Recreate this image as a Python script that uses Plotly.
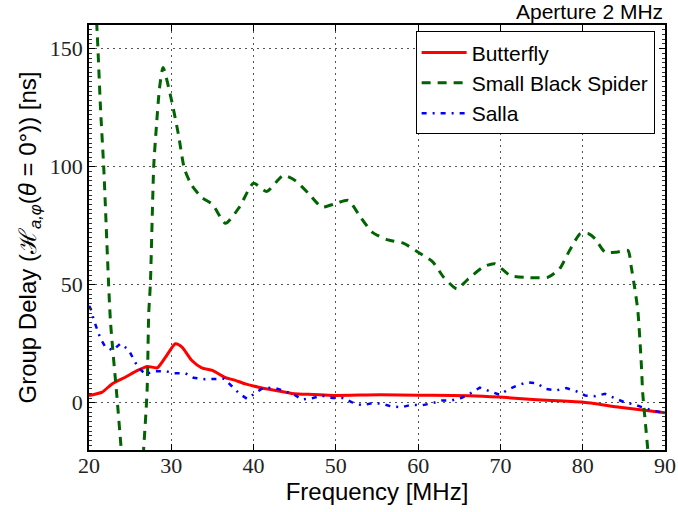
import plotly.graph_objects as go

# Butterfly
bf_freq = [20.0, 21.6, 22.8, 24.4, 25.9, 27.1, 28.3, 29.3, 30.5, 31.3, 32.5, 33.7, 35.0, 36.6,
           37.6, 39.0, 40.6, 42.2, 43.9, 44.9, 47.3, 49.7, 55.4, 60.0, 66.3, 69.9, 74.4, 79.9,
           84.5, 90.0]
bf_delay = [3.1, 4.5, 8.0, 10.8, 13.7, 15.4, 14.8, 19.3, 25.0, 23.6, 17.9, 14.8, 13.7, 10.6,
            9.7, 8.0, 6.6, 5.5, 4.5, 3.8, 3.5, 3.1, 3.4, 3.2, 3.0, 2.4, 1.3, 0.3,
            -1.9, -4.2]

# Small Black Spider
sbs_freq = [20.7, 21.0, 21.4, 21.8, 22.6, 23.4, 23.9, 24.3, 26.3, 26.65, 27.06, 27.26, 27.46,
            27.87, 28.2, 28.56, 29.0, 30.1, 30.9, 31.6, 32.5, 33.7, 35.0, 36.6, 38.3, 40.0,
            41.6, 43.6, 45.1, 46.7, 48.3, 49.9, 51.5, 53.0, 54.4, 56.2, 58.2, 60.0, 61.8,
            63.1, 64.7, 66.1, 67.9, 69.3, 71.2, 73.6, 75.8, 77.2, 78.4, 79.7, 80.7, 81.5,
            82.7, 84.1, 85.5, 85.9, 86.3, 86.7, 87.1, 87.3, 87.7, 87.9, 88.3]
sbs_delay = [175.0, 156.5, 124.7, 99.0, 35.0, 2.4, -19.0, -35.0, -35.0, -19.0, 5.0, 38.0, 50.5,
             100.5, 117.5, 133.0, 142.0, 127.0, 113.0, 99.0, 92.0, 87.0, 84.0, 76.0, 83.0, 93.0,
             89.5, 96.3, 94.0, 88.6, 82.9, 84.3, 85.7, 78.6, 72.3, 69.1, 67.6, 63.8, 59.6,
             53.2, 48.3, 52.5, 57.5, 58.9, 53.9, 53.0, 53.2, 56.8, 64.5, 71.6, 71.6, 69.5,
             63.8, 63.8, 64.5, 57.5, 49.0, 39.0, 17.9, 3.8, -11.7, -19.5, -35.0]

# Salla
sal_freq = [20.0, 20.2, 20.6, 21.4, 22.0, 22.9, 23.8, 24.8, 25.4, 26.0, 26.9, 27.9, 29.3, 30.4,
            31.7, 32.7, 34.1, 35.4, 36.4, 37.4, 38.3, 39.2, 40.2, 41.2, 42.6, 43.6, 44.9, 45.9,
            47.2, 48.3, 49.6, 50.9, 51.9, 53.2, 54.4, 55.6, 56.8, 58.0, 59.2, 60.4, 61.7,
            62.9, 64.1, 65.3, 66.4, 67.5, 68.7, 69.9, 70.9, 72.0, 73.3, 74.4, 75.5, 76.7,
            78.0, 79.2, 80.3, 81.5, 82.7, 83.9, 85.0, 86.2, 87.3, 88.5, 89.8, 90.0]
sal_delay = [41.0, 39.8, 34.9, 27.1, 23.6, 22.2, 25.0, 22.5, 18.6, 14.8, 12.0, 13.4, 13.4, 12.5,
             12.5, 10.6, 10.0, 10.0, 10.2, 6.9, 3.8, 1.7, 4.1, 6.4, 6.2, 5.2, 3.5, 1.4,
             2.0, 3.0, 2.0, 2.0, 0.3, -1.1, -0.2, -0.4, -1.6, -1.9, -0.8, -1.1, -0.2,
             1.0, 1.0, 2.1, 4.1, 6.4, 4.9, 3.4, 5.5, 7.3, 8.7, 8.3, 5.9, 5.2,
             6.2, 4.9, 3.1, 2.8, 3.8, 2.1, 0.3, -0.7, -1.9, -3.3, -4.2, -4.3]

fig = go.Figure()
fig.add_trace(go.Scatter(x=bf_freq, y=bf_delay, mode='lines', name='Butterfly',
                         line=dict(color='#ff0000', width=3, shape='spline', smoothing=0.6)))
fig.add_trace(go.Scatter(x=sbs_freq, y=sbs_delay, mode='lines', name='Small Black Spider',
                         line=dict(color='#006400', width=3, dash='9px,7px', shape='spline',
                                   smoothing=0.6)))
fig.add_trace(go.Scatter(x=sal_freq, y=sal_delay, mode='lines', name='Salla',
                         line=dict(color='#0000ff', width=2.5, dash='5px,6px,2px,6px')))

tick_font = dict(family='Liberation Serif', size=22, color='#222')
axis_common = dict(showline=True, linecolor='black', linewidth=1.5, mirror='ticks',
                   ticks='inside', ticklen=6, tickcolor='black', tickfont=tick_font,
                   showgrid=True, gridcolor='#555', gridwidth=1, griddash='2px,4px',
                   zeroline=False, automargin=False)

fig.update_layout(
    width=678, height=512, autosize=False,
    margin=dict(l=89, r=13, t=25, b=62),
    plot_bgcolor='white', paper_bgcolor='white',
    font=dict(family='Liberation Sans', color='black'),
    showlegend=True,
    legend=dict(x=0.982, y=0.985, xanchor='right', yanchor='top',
                bgcolor='white', bordercolor='black', borderwidth=1,
                font=dict(family='Liberation Sans', size=21),
                itemwidth=45),
    xaxis=dict(range=[20, 90], dtick=10, tick0=20, ticklabelstandoff=-5,
               title=dict(text='Frequency [MHz]', font=dict(size=24), standoff=4),
               **axis_common),
    yaxis=dict(range=[-20, 160], dtick=50, tick0=0,
               title=dict(text='Group Delay (ℋ<sub><i>a,φ</i></sub>(<i>θ</i> = 0°)) [ns]',
                          font=dict(size=24), standoff=6),
               minor=dict(ticks='inside', ticklen=3, dtick=2, tickcolor='#333',
                          showgrid=False),
               **axis_common),
    annotations=[dict(text='Aperture 2 MHz', x=1, y=1, xref='paper', yref='paper',
                      xanchor='right', yanchor='bottom', yshift=0, showarrow=False,
                      font=dict(family='Liberation Sans', size=21))],
)

# drop the default 8px body margin so the figure fills the window exactly
fig.write_html("out.html", config={'displayModeBar': False},
               post_script="document.body.style.margin='0';")
